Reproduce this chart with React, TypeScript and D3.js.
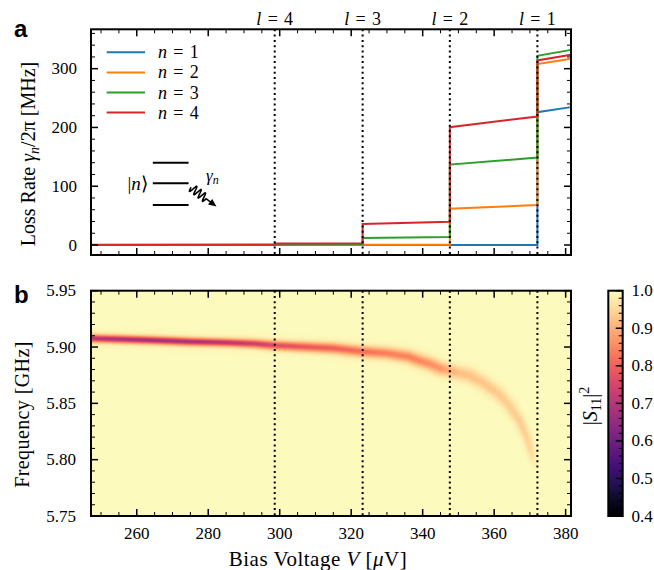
import React, { useEffect, useRef } from "react";
import * as d3 from "d3";

// ---------------- data ----------------
const voltageDomain = [247.2, 381.5];
const lossDomain = [-17, 367];
const freqDomain = [5.75, 5.95];
const s11Domain = [0.4, 1.0];

const levelVoltages = [372.1, 347.6, 323.2, 298.6];
const levelNames = ["1", "2", "3", "4"];

const stepVoltages = [247.2, 298.6, 298.6, 323.2, 323.2, 347.6, 347.6, 372.1, 372.1, 381.5];
const lossN1 = [0, 0, 0, 0, 0, 0, 0, 0, 226, 234.6];
const lossN2 = [0, 0, 0, 0, 0.3, 0.5, 61.8, 68.1, 307.8, 316.9];
const lossN3 = [0, 0, 0.5, 0.8, 12, 13.6, 136.8, 148.7, 322, 332];
const lossN4 = [0.5, 0.8, 2.5, 3, 35.8, 39.7, 200.5, 218.6, 314, 323.7];
const seriesLabels = ["1", "2", "3", "4"];
const seriesColors = ["#1f77b4", "#ff7f0e", "#2ca02c", "#d62728"];

const resV = [247.2, 255, 265, 275, 285, 293, 298.6, 305, 315, 323.2, 330, 336, 339, 342, 345, 347.6, 350, 353, 357, 361, 364, 367, 369, 370.5, 371.5];
const resF = [5.9077, 5.907, 5.906, 5.9048, 5.904, 5.903, 5.9015, 5.9005, 5.899, 5.896, 5.8945, 5.8915, 5.888, 5.885, 5.881, 5.879, 5.877, 5.875, 5.868, 5.859, 5.849, 5.835, 5.821, 5.805, 5.792];
const resDepth = [0.3, 0.32, 0.33, 0.32, 0.3, 0.27, 0.24, 0.22, 0.2, 0.18, 0.16, 0.155, 0.15, 0.14, 0.13, 0.1, 0.08, 0.075, 0.07, 0.065, 0.06, 0.06, 0.055, 0.04, 0.0];
const resSigma = [0.0023, 0.0023, 0.0023, 0.0023, 0.0023, 0.0025, 0.0027, 0.0029, 0.0031, 0.0033, 0.0035, 0.0037, 0.0038, 0.0039, 0.004, 0.0042, 0.0043, 0.0043, 0.0043, 0.0041, 0.0038, 0.0034, 0.003, 0.0027, 0.0025];
const backgroundS11 = 0.998;

const xTicks = [260, 280, 300, 320, 340, 360, 380];
const lossTicks = [0, 100, 200, 300];
const freqTicks = [5.75, 5.8, 5.85, 5.9, 5.95];
const cbTicks = [0.4, 0.5, 0.6, 0.7, 0.8, 0.9, 1.0];

// ---------------- layout ----------------
const W = 654, H = 570;
const PL = 91, PR = 571;
const TT = 29.3, TB = 255;
const BT = 290.7, BB = 516;
const CBL = 608.3, CBR = 622.7;
const SERIF = "'Liberation Serif', 'Times New Roman', serif";
const SANS = "'Liberation Sans', Arial, sans-serif";

function minorRange(a: number, b: number, step: number) {
  const out: number[] = [];
  const n0 = Math.ceil(a / step - 1e-9), n1 = Math.floor(b / step + 1e-9);
  for (let i = n0; i <= n1; i++) out.push(+(i * step).toFixed(6));
  return out;
}

function Frame({ x, y, xMaj, xMin, yMaj, yMin, top, bottom }: any) {
  const els: any[] = [];
  const M = 7, m = 4;
  xMaj.forEach((v: number, i: number) => {
    const px = x(v);
    els.push(<line key={"xb" + i} x1={px} x2={px} y1={bottom} y2={bottom - M} stroke="#000" strokeWidth={1.5} />);
    els.push(<line key={"xt" + i} x1={px} x2={px} y1={top} y2={top + M} stroke="#000" strokeWidth={1.5} />);
  });
  xMin.forEach((v: number, i: number) => {
    const px = x(v);
    els.push(<line key={"xbm" + i} x1={px} x2={px} y1={bottom} y2={bottom - m} stroke="#000" strokeWidth={1} />);
    els.push(<line key={"xtm" + i} x1={px} x2={px} y1={top} y2={top + m} stroke="#000" strokeWidth={1} />);
  });
  yMaj.forEach((v: number, i: number) => {
    const py = y(v);
    els.push(<line key={"yl" + i} x1={PL} x2={PL + M} y1={py} y2={py} stroke="#000" strokeWidth={1.5} />);
    els.push(<line key={"yr" + i} x1={PR} x2={PR - M} y1={py} y2={py} stroke="#000" strokeWidth={1.5} />);
  });
  yMin.forEach((v: number, i: number) => {
    const py = y(v);
    els.push(<line key={"ylm" + i} x1={PL} x2={PL + m} y1={py} y2={py} stroke="#000" strokeWidth={1} />);
    els.push(<line key={"yrm" + i} x1={PR} x2={PR - m} y1={py} y2={py} stroke="#000" strokeWidth={1} />);
  });
  els.push(<rect key="frame" x={PL} y={top} width={PR - PL} height={bottom - top} fill="none" stroke="#000" strokeWidth={2} />);
  return <g>{els}</g>;
}

export default function App() {
  const imgRef = useRef<SVGImageElement>(null);
  const x = d3.scaleLinear().domain(voltageDomain).range([PL, PR]);
  const yTop = d3.scaleLinear().domain(lossDomain).range([TB, TT]);
  const yBot = d3.scaleLinear().domain(freqDomain).range([BB, BT]);
  const yCb = d3.scaleLinear().domain(s11Domain).range([BB, BT]);

  useEffect(() => {
    const w = Math.round(PR - PL), h = Math.round(BB - BT);
    const canvas = document.createElement("canvas");
    canvas.width = w;
    canvas.height = h;
    const ctx = canvas.getContext("2d");
    if (!ctx) return;
    const buf = new Float32Array(w * h);
    const fI = d3.scaleLinear().domain(resV).range(resF).clamp(true);
    const dI = d3.scaleLinear().domain(resV).range(resDepth).clamp(true);
    const sI = d3.scaleLinear().domain(resV).range(resSigma).clamp(true);
    const pxPerGHz = (BB - BT) / (freqDomain[1] - freqDomain[0]);
    const v0 = resV[0], v1 = resV[resV.length - 1];
    for (let v = v0; v <= v1; v += 0.04) {
      const cx = x(v) - PL, cy = yBot(fI(v)) - BT;
      const depth = dI(v);
      if (depth <= 0) continue;
      const s = sI(v) * pxPerGHz;
      const R = Math.ceil(s * 6);
      const xa = Math.max(0, Math.floor(cx - R)), xb = Math.min(w - 1, Math.ceil(cx + R));
      const ya = Math.max(0, Math.floor(cy - R)), yb = Math.min(h - 1, Math.ceil(cy + R));
      for (let py = ya; py <= yb; py++) {
        const dy = py + 0.5 - cy;
        for (let px = xa; px <= xb; px++) {
          const dx = px + 0.5 - cx;
          const r2 = (dx * dx + dy * dy) / (s * s);
          const val = depth * (0.82 * Math.exp(-r2 / 2) + 0.18 / (1 + r2));
          const i = py * w + px;
          if (val > buf[i]) buf[i] = val;
        }
      }
    }
    const lut: number[][] = [];
    for (let k = 0; k < 512; k++) {
      const c = d3.rgb(d3.interpolateMagma(k / 511));
      lut.push([c.r, c.g, c.b]);
    }
    const img = ctx.createImageData(w, h);
    for (let i = 0; i < w * h; i++) {
      const val = backgroundS11 - buf[i];
      let t = (val - s11Domain[0]) / (s11Domain[1] - s11Domain[0]);
      t = Math.max(0, Math.min(1, t));
      const c = lut[Math.round(t * 511)];
      img.data[i * 4] = c[0];
      img.data[i * 4 + 1] = c[1];
      img.data[i * 4 + 2] = c[2];
      img.data[i * 4 + 3] = 255;
    }
    ctx.putImageData(img, 0, 0);
    if (imgRef.current) imgRef.current.setAttribute("href", canvas.toDataURL());
  }, []);

  const series = [lossN1, lossN2, lossN3, lossN4];
  const line = d3.line<number>().x((_, i) => x(stepVoltages[i])).y((d) => yTop(d));

  const xMin = minorRange(voltageDomain[0], voltageDomain[1], 5).filter((v) => !xTicks.includes(v));
  const lossMin = minorRange(lossDomain[0], lossDomain[1], 20).filter((v) => v % 100 !== 0);
  const freqMin = minorRange(freqDomain[0], freqDomain[1], 0.01).filter((v) => !freqTicks.some((t) => Math.abs(t - v) < 1e-6));
  const cbMin = minorRange(s11Domain[0], s11Domain[1], 0.02).filter((v) => !cbTicks.some((t) => Math.abs(t - v) < 1e-6));

  const gradStops = d3.range(0, 1.0001, 0.05);

  // inset wavy arrow
  const ax0 = 191, ay0 = yTop(100) + 1;
  const ang = Math.atan2(19, 25);
  const wav: [number, number][] = [];
  const wl = 19;
  for (let s = 0; s <= wl; s += 0.25) {
    const off = 4.2 * Math.sin((s / wl) * Math.PI * 2 * 3.5);
    wav.push([ax0 + s * Math.cos(ang) - off * Math.sin(ang), ay0 + s * Math.sin(ang) + off * Math.cos(ang)]);
  }
  const aEnd: [number, number] = [ax0 + 32 * Math.cos(ang), ay0 + 32 * Math.sin(ang)];
  wav.push([ax0 + 26 * Math.cos(ang), ay0 + 26 * Math.sin(ang)]);
  const hb = 8, hw = 3.5;
  const head = [
    aEnd,
    [aEnd[0] - hb * Math.cos(ang) - hw * Math.sin(ang), aEnd[1] - hb * Math.sin(ang) + hw * Math.cos(ang)],
    [aEnd[0] - hb * Math.cos(ang) + hw * Math.sin(ang), aEnd[1] - hb * Math.sin(ang) - hw * Math.cos(ang)],
  ];
  const insetX0 = x(264.5), insetX1 = x(274.5);
  const insetLevels = [140, 105, 68];

  return (
    <svg width={W} height={H} style={{ position: "absolute", left: 0, top: 0, background: "#fff" }} fontFamily={SERIF}>
      <defs>
        <linearGradient id="magmaGrad" x1="0" y1="1" x2="0" y2="0">
          {gradStops.map((t, i) => (
            <stop key={i} offset={t} stopColor={d3.interpolateMagma(t)} />
          ))}
        </linearGradient>
      </defs>
      <rect x={0} y={0} width={W} height={H} fill="#fff" />

      {/* ---------- panel a ---------- */}
      <text x={14} y={37} fontFamily={SANS} fontWeight="bold" fontSize={24}>a</text>
      {series.map((s, i) => (
        <path key={i} d={line(s) || ""} fill="none" stroke={seriesColors[i]} strokeWidth={2} />
      ))}
      {levelVoltages.map((v, i) => (
        <line key={"la" + i} x1={x(v)} x2={x(v)} y1={TT} y2={TB} stroke="#000" strokeWidth={2} strokeDasharray="2 3.3" />
      ))}
      {levelVoltages.map((v, i) => (
        <text key={"lt" + i} x={x(v)} y={25} fontSize={18} textAnchor="middle">
          <tspan fontStyle="italic">l</tspan>
          <tspan dx="0.35em">=</tspan>
          <tspan dx="0.35em">{levelNames[i]}</tspan>
        </text>
      ))}
      <Frame x={x} y={yTop} xMaj={xTicks} xMin={xMin} yMaj={lossTicks} yMin={lossMin} top={TT} bottom={TB} />
      {lossTicks.map((v) => (
        <text key={"yl" + v} x={77} y={yTop(v)} fontSize={17} textAnchor="end" dominantBaseline="central">{v}</text>
      ))}
      <text transform={`translate(35,154) rotate(-90)`} fontSize={20} textAnchor="middle">
        Loss Rate <tspan fontStyle="italic">γ</tspan>
        <tspan fontStyle="italic" fontSize={14} dy={4}>n</tspan>
        <tspan dy={-4}>/2π [MHz]</tspan>
      </text>
      {/* legend */}
      {seriesLabels.map((lab, i) => (
        <g key={"lg" + i}>
          <line x1={106.7} x2={145} y1={52.3 + i * 20.1} y2={52.3 + i * 20.1} stroke={seriesColors[i]} strokeWidth={2} />
          <text x={158} y={52.3 + i * 20.1} fontSize={18} dominantBaseline="central">
            <tspan fontStyle="italic">n</tspan>
            <tspan dx="0.35em">=</tspan>
            <tspan dx="0.35em">{lab}</tspan>
          </text>
        </g>
      ))}
      {/* inset */}
      {insetLevels.map((r, i) => (
        <line key={"il" + i} x1={insetX0} x2={insetX1} y1={yTop(r)} y2={yTop(r)} stroke="#000" strokeWidth={2} />
      ))}
      <text x={insetX0 - 5} y={yTop(105)} fontSize={19} textAnchor="end" dominantBaseline="central">
        |<tspan fontStyle="italic">n</tspan>⟩
      </text>
      <path d={d3.line()(wav) || ""} fill="none" stroke="#000" strokeWidth={1.6} />
      <path d={d3.line()(head as any) + "Z"} fill="#000" />
      <text x={206} y={181} fontSize={17} fontStyle="italic">
        γ<tspan fontSize={12} dy={3}>n</tspan>
      </text>

      {/* ---------- panel b ---------- */}
      <text x={14} y={303} fontFamily={SANS} fontWeight="bold" fontSize={24}>b</text>
      <rect x={PL} y={BT} width={PR - PL} height={BB - BT} fill={d3.interpolateMagma((backgroundS11 - 0.4) / 0.6)} />
      <image ref={imgRef} x={PL} y={BT} width={Math.round(PR - PL)} height={Math.round(BB - BT)} preserveAspectRatio="none" />
      {levelVoltages.map((v, i) => (
        <line key={"lb" + i} x1={x(v)} x2={x(v)} y1={BT} y2={BB} stroke="#000" strokeWidth={2} strokeDasharray="2 3.3" />
      ))}
      <Frame x={x} y={yBot} xMaj={xTicks} xMin={xMin} yMaj={freqTicks} yMin={freqMin} top={BT} bottom={BB} />
      {freqTicks.map((v) => (
        <text key={"fl" + v} x={76} y={yBot(v)} fontSize={17} textAnchor="end" dominantBaseline="central">{v.toFixed(2)}</text>
      ))}
      {xTicks.map((v) => (
        <text key={"xl" + v} x={x(v)} y={539} fontSize={17} textAnchor="middle">{v}</text>
      ))}
      <text transform={`translate(29,414.5) rotate(-90)`} fontSize={20} textAnchor="middle" letterSpacing={0.4}>Frequency [GHz]</text>
      <text x={318} y={566} fontSize={21} textAnchor="middle" letterSpacing={0.5}>
        Bias Voltage <tspan fontStyle="italic">V</tspan>  [<tspan fontStyle="italic">μ</tspan>V]
      </text>

      {/* ---------- colorbar ---------- */}
      <rect x={CBL} y={BT} width={CBR - CBL} height={BB - BT} fill="url(#magmaGrad)" />
      {cbTicks.map((v) => (
        <line key={"cbt" + v} x1={CBR} x2={CBR - 7} y1={yCb(v)} y2={yCb(v)} stroke="#000" strokeWidth={1.5} />
      ))}
      {cbMin.map((v) => (
        <line key={"cbm" + v} x1={CBR} x2={CBR - 4} y1={yCb(v)} y2={yCb(v)} stroke="#000" strokeWidth={1} />
      ))}
      <rect x={CBL} y={BT} width={CBR - CBL} height={BB - BT} fill="none" stroke="#000" strokeWidth={2} />
      {cbTicks.map((v) => (
        <text key={"cbl" + v} x={631.5} y={yCb(v)} fontSize={17} dominantBaseline="central">{v.toFixed(1)}</text>
      ))}
      <text transform={`translate(597,406) rotate(-90)`} fontSize={20} textAnchor="middle">
        |<tspan fontStyle="italic">S</tspan>
        <tspan fontSize={14} dy={4}>11</tspan>
        <tspan dy={-4}>|</tspan>
        <tspan fontSize={14} dy={-8}>2</tspan>
      </text>
    </svg>
  );
}
